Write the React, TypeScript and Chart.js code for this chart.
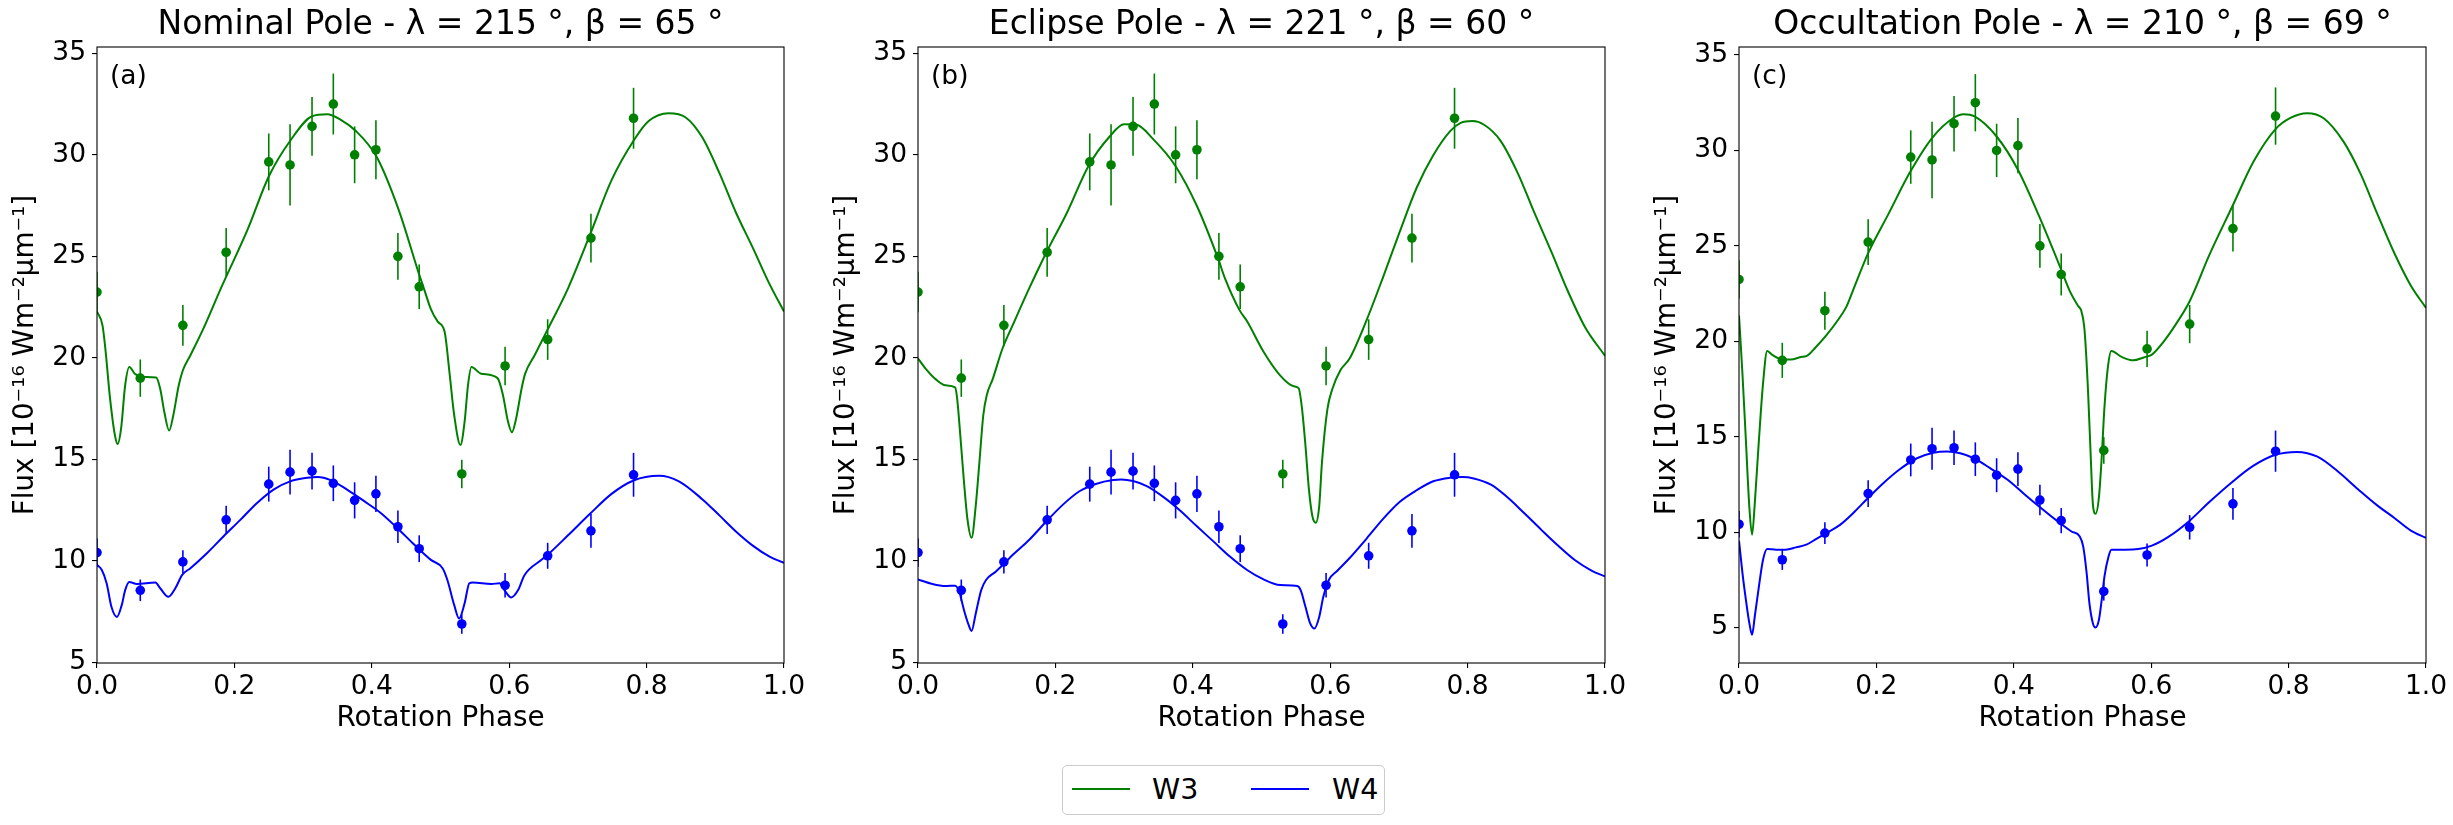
import { useEffect, useRef } from 'react';
import Chart from 'chart.js/auto';

type Pt = [number, number];

// observed photometry (same in every panel)
const obsPhase = [0, 0.063, 0.125, 0.188, 0.25, 0.281, 0.313, 0.344, 0.375, 0.406, 0.438, 0.469, 0.531, 0.594, 0.656, 0.719, 0.781];
const w3Flux = [23.24, 19.0, 21.6, 25.2, 29.65, 29.5, 31.4, 32.5, 30.0, 30.25, 25.0, 23.5, 14.28, 19.6, 20.9, 25.9, 31.8];
const w3Err = [1.0, 0.92, 1.0, 1.2, 1.4, 2.0, 1.45, 1.5, 1.4, 1.45, 1.15, 1.1, 0.7, 0.95, 1.0, 1.2, 1.5];
const w4Flux = [10.41, 8.55, 9.95, 12.02, 13.78, 14.37, 14.42, 13.82, 12.98, 13.3, 11.68, 10.6, 6.89, 8.8, 10.25, 11.48, 14.24];
const w4Err = [0.7, 0.53, 0.57, 0.7, 0.86, 1.1, 0.9, 0.88, 0.89, 0.89, 0.8, 0.66, 0.48, 0.6, 0.64, 0.83, 1.08];

// model light curves [phase, flux]
const nominalW3: Pt[] = [
  [0, 22.28], [0.008, 21.6], [0.012, 20.5], [0.019, 18.0], [0.026, 16.2], [0.03, 15.76], [0.035, 16.5],
  [0.041, 18.65], [0.047, 19.55], [0.055, 19.22], [0.068, 19.06], [0.086, 19.03], [0.092, 18.48],
  [0.098, 17.33], [0.105, 16.42], [0.111, 17.16], [0.119, 18.65], [0.125, 19.39], [0.136, 20.13],
  [0.155, 21.45], [0.18, 23.4], [0.219, 26.3], [0.25, 28.93], [0.282, 30.73], [0.313, 31.9], [0.335, 32.0],
  [0.356, 31.7], [0.376, 31.2], [0.407, 29.9], [0.439, 27.3], [0.469, 24.1], [0.476, 23.4], [0.486, 22.4],
  [0.496, 21.78], [0.506, 21.29], [0.513, 19.3], [0.52, 17.16], [0.529, 15.71], [0.535, 16.83], [0.54, 18.65],
  [0.545, 19.55], [0.559, 19.22], [0.583, 19.0], [0.591, 18.15], [0.598, 16.9], [0.604, 16.34], [0.61, 17.0],
  [0.618, 18.48], [0.623, 19.2], [0.637, 20.13], [0.656, 21.4], [0.686, 23.45], [0.718, 26.1], [0.749, 28.75],
  [0.781, 30.69], [0.803, 31.66], [0.832, 32.05], [0.857, 31.84], [0.881, 30.86], [0.906, 29.1], [0.93, 27.16],
  [0.955, 25.39], [0.979, 23.63], [1.0, 22.28],
];
const nominalW4: Pt[] = [
  [0, 9.8], [0.007, 9.55], [0.014, 8.9], [0.021, 7.74], [0.029, 7.24], [0.036, 7.82], [0.041, 8.56],
  [0.047, 8.96], [0.058, 8.86], [0.085, 8.93], [0.092, 8.65], [0.104, 8.23], [0.114, 8.65], [0.124, 9.31],
  [0.136, 9.64], [0.16, 10.38], [0.184, 11.2], [0.209, 12.03], [0.233, 12.85], [0.257, 13.51], [0.282, 13.93],
  [0.306, 14.09], [0.321, 14.13], [0.34, 13.98], [0.364, 13.51], [0.389, 12.94], [0.413, 12.36], [0.437, 11.62],
  [0.462, 10.79], [0.486, 10.05], [0.503, 9.64], [0.51, 9.06], [0.52, 7.82], [0.527, 7.16], [0.535, 7.9],
  [0.542, 8.9], [0.547, 8.94], [0.574, 8.86], [0.586, 8.9], [0.593, 8.56], [0.603, 8.2], [0.613, 8.56],
  [0.622, 9.28], [0.647, 10.05], [0.656, 10.3], [0.686, 11.27], [0.718, 12.33], [0.749, 13.3], [0.781, 13.96],
  [0.818, 14.19], [0.847, 13.92], [0.881, 13.04], [0.906, 12.24], [0.93, 11.45], [0.955, 10.74], [0.979, 10.21],
  [1.0, 9.9],
];
const eclipseW3: Pt[] = [
  [0, 19.97], [0.011, 19.47], [0.026, 18.94], [0.04, 18.65], [0.054, 18.55], [0.057, 17.99], [0.062, 16.0],
  [0.067, 13.86], [0.072, 12.05], [0.078, 11.14], [0.084, 12.7], [0.089, 14.69], [0.095, 17.16], [0.1, 18.15],
  [0.109, 18.98], [0.123, 20.46], [0.138, 21.62], [0.162, 23.43], [0.187, 25.2], [0.217, 27.16], [0.248, 29.44],
  [0.279, 30.9], [0.3, 31.5], [0.317, 31.49], [0.343, 30.75], [0.375, 29.44], [0.406, 27.48], [0.437, 24.87],
  [0.447, 23.9], [0.468, 22.35], [0.479, 21.8], [0.503, 20.3], [0.527, 19.14], [0.547, 18.6], [0.554, 18.51],
  [0.559, 17.49], [0.564, 15.67], [0.569, 13.53], [0.574, 12.21], [0.579, 11.88], [0.584, 12.7], [0.588, 14.85],
  [0.596, 17.49], [0.603, 18.45], [0.615, 19.4], [0.628, 19.95], [0.653, 21.86], [0.677, 23.98], [0.701, 26.19],
  [0.726, 28.39], [0.75, 29.98], [0.775, 31.18], [0.79, 31.57], [0.807, 31.66], [0.824, 31.48], [0.848, 30.69],
  [0.873, 29.1], [0.897, 27.16], [0.922, 25.22], [0.946, 23.28], [0.971, 21.51], [1.0, 20.1],
];
const eclipseW4: Pt[] = [
  [0, 9.09], [0.021, 8.86], [0.04, 8.76], [0.054, 8.78], [0.06, 8.48], [0.067, 7.57], [0.073, 6.91],
  [0.078, 6.55], [0.084, 7.4], [0.092, 8.56], [0.099, 9.06], [0.113, 9.47], [0.126, 9.88], [0.138, 10.3],
  [0.162, 11.04], [0.187, 11.95], [0.211, 12.77], [0.235, 13.43], [0.26, 13.8], [0.284, 13.98], [0.296, 14.01],
  [0.313, 13.93], [0.333, 13.68], [0.357, 13.15], [0.381, 12.49], [0.406, 11.7], [0.43, 10.96], [0.454, 10.21],
  [0.479, 9.55], [0.503, 9.09], [0.527, 8.81], [0.552, 8.76], [0.557, 8.56], [0.564, 7.74], [0.571, 6.91],
  [0.577, 6.67], [0.584, 7.24], [0.59, 8.23], [0.598, 9.06], [0.61, 9.5], [0.628, 10.13], [0.653, 11.1],
  [0.677, 12.07], [0.701, 12.9], [0.726, 13.48], [0.75, 13.92], [0.775, 14.1], [0.792, 14.13], [0.809, 14.06],
  [0.834, 13.75], [0.858, 13.13], [0.883, 12.33], [0.907, 11.54], [0.932, 10.74], [0.956, 10.04], [0.981, 9.51],
  [1.0, 9.24],
];
const occultationW3: Pt[] = [
  [0, 21.35], [0.005, 18.31], [0.01, 14.83], [0.015, 11.34], [0.019, 9.86], [0.023, 11.52], [0.029, 14.83],
  [0.035, 17.79], [0.041, 19.49], [0.049, 19.27], [0.064, 19.04], [0.076, 19.04], [0.09, 19.18], [0.098, 19.22],
  [0.112, 19.7], [0.127, 20.31], [0.142, 21.01], [0.156, 21.79], [0.166, 22.67], [0.188, 24.62], [0.218, 26.7],
  [0.248, 28.8], [0.281, 30.65], [0.312, 31.7], [0.327, 31.9], [0.343, 31.78], [0.375, 30.73], [0.406, 28.99],
  [0.437, 26.54], [0.469, 23.75], [0.481, 22.67], [0.494, 21.83], [0.498, 21.62], [0.503, 20.57], [0.508, 17.44],
  [0.512, 13.95], [0.515, 11.52], [0.519, 10.96], [0.524, 11.86], [0.528, 13.95], [0.532, 16.57], [0.537, 18.66],
  [0.542, 19.49], [0.557, 19.18], [0.574, 19.0], [0.589, 19.15], [0.601, 19.3], [0.617, 19.93], [0.636, 20.9],
  [0.656, 22.1], [0.685, 24.55], [0.718, 27.06], [0.749, 29.42], [0.781, 31.12], [0.802, 31.69], [0.827, 31.95],
  [0.851, 31.69], [0.88, 30.46], [0.905, 28.76], [0.929, 26.69], [0.954, 24.61], [0.978, 22.91], [1.0, 21.75],
];
const occultationW4: Pt[] = [
  [0, 9.55], [0.005, 7.86], [0.01, 6.46], [0.015, 5.24], [0.019, 4.62], [0.023, 5.59], [0.029, 7.16],
  [0.035, 8.55], [0.041, 9.11], [0.054, 9.08], [0.068, 9.08], [0.083, 9.2], [0.098, 9.34], [0.112, 9.63],
  [0.127, 9.95], [0.147, 10.38], [0.166, 10.99], [0.186, 11.72], [0.21, 12.56], [0.234, 13.29], [0.259, 13.87],
  [0.283, 14.16], [0.303, 14.22], [0.322, 14.13], [0.342, 13.87], [0.366, 13.34], [0.391, 12.74], [0.415, 12.0],
  [0.44, 11.25], [0.464, 10.56], [0.484, 10.03], [0.496, 9.77], [0.501, 9.25], [0.506, 7.86], [0.51, 6.29],
  [0.515, 5.24], [0.519, 5.0], [0.524, 5.42], [0.528, 6.46], [0.532, 7.68], [0.538, 8.73], [0.542, 9.08],
  [0.562, 9.08], [0.581, 9.11], [0.601, 9.29], [0.625, 9.75], [0.656, 10.6], [0.685, 11.59], [0.718, 12.63],
  [0.749, 13.48], [0.781, 14.05], [0.812, 14.2], [0.842, 13.95], [0.871, 13.2], [0.901, 12.25], [0.929, 11.4],
  [0.954, 10.74], [0.978, 10.08], [1.0, 9.7],
];

const xTicks = [0, 0.2, 0.4, 0.6, 0.8, 1.0];
const yTicks = [5, 10, 15, 20, 25, 30, 35];

const FONT = "'DejaVu Sans', sans-serif";
const W3_COLOR = '#008000';
const W4_COLOR = '#0000ff';

const panels = [
  { title: 'Nominal Pole - λ = 215 °, β = 65 °', tag: '(a)', w3: nominalW3, w4: nominalW4, yMin: 4.97, yMax: 35.31, left: 0 },
  { title: 'Eclipse Pole - λ = 221 °, β = 60 °', tag: '(b)', w3: eclipseW3, w4: eclipseW4, yMin: 4.97, yMax: 35.31, left: 821 },
  { title: 'Occultation Pole - λ = 210 °, β = 69 °', tag: '(c)', w3: occultationW3, w4: occultationW4, yMin: 3.14, yMax: 35.42, left: 1642 },
];

const CANVAS_W = 810;
const CANVAS_H = 750;

// vertical error bars, drawn with the chart's own scales
const errorBars = {
  id: 'errorBars',
  beforeDatasetsDraw(chart: any) {
    const { ctx, chartArea, scales } = chart;
    ctx.save();
    ctx.beginPath();
    ctx.rect(chartArea.left, chartArea.top, chartArea.right - chartArea.left, chartArea.bottom - chartArea.top);
    ctx.clip();
    chart.data.datasets.forEach((ds: any) => {
      if (!ds.errors) return;
      ctx.strokeStyle = ds.backgroundColor;
      ctx.lineWidth = 1.6;
      ds.data.forEach((p: any, i: number) => {
        const px = scales.x.getPixelForValue(p.x);
        ctx.beginPath();
        ctx.moveTo(px, scales.y.getPixelForValue(p.y - ds.errors[i]));
        ctx.lineTo(px, scales.y.getPixelForValue(p.y + ds.errors[i]));
        ctx.stroke();
      });
    });
    ctx.restore();
  },
};

// full box frame + panel letter
const frame = {
  id: 'frame',
  afterDraw(chart: any, _args: any, opts: any) {
    const { ctx, chartArea } = chart;
    ctx.save();
    ctx.strokeStyle = '#000';
    ctx.lineWidth = 1.1;
    ctx.strokeRect(chartArea.left, chartArea.top, chartArea.right - chartArea.left, chartArea.bottom - chartArea.top);
    ctx.fillStyle = '#000';
    ctx.font = `26.5px ${FONT}`;
    ctx.textBaseline = 'middle';
    ctx.textAlign = 'left';
    ctx.fillText(opts.tag, chartArea.left + 13, chartArea.top + 30);
    ctx.restore();
  },
};

function Panel({ cfg }: { cfg: typeof panels[number] }) {
  const canvasRef = useRef<HTMLCanvasElement | null>(null);

  useEffect(() => {
    const canvas = canvasRef.current;
    if (!canvas) return;

    const tickFont = { family: FONT, size: 26.5 };
    const labelFont = { family: FONT, size: 27.8 };
    const grid = { drawOnChartArea: false, drawTicks: true, tickLength: 5, color: '#000', lineWidth: 1.1 };

    const chart = new Chart(canvas, {
      type: 'scatter',
      data: {
        datasets: [
          {
            label: 'W3 obs',
            data: obsPhase.map((x, i) => ({ x, y: w3Flux[i] })),
            errors: w3Err,
            backgroundColor: W3_COLOR,
            borderWidth: 0,
            pointRadius: 4.8,
            clip: 0,
          } as any,
          {
            label: 'W4 obs',
            data: obsPhase.map((x, i) => ({ x, y: w4Flux[i] })),
            errors: w4Err,
            backgroundColor: W4_COLOR,
            borderWidth: 0,
            pointRadius: 4.8,
            clip: 0,
          } as any,
          {
            label: 'W3',
            data: cfg.w3.map(([x, y]) => ({ x, y })),
            showLine: true,
            borderColor: W3_COLOR,
            borderWidth: 2,
            pointRadius: 0,
            cubicInterpolationMode: 'monotone',
            clip: 0,
          },
          {
            label: 'W4',
            data: cfg.w4.map(([x, y]) => ({ x, y })),
            showLine: true,
            borderColor: W4_COLOR,
            borderWidth: 2,
            pointRadius: 0,
            cubicInterpolationMode: 'monotone',
            clip: 0,
          },
        ],
      },
      options: {
        responsive: false,
        animation: false,
        events: [],
        layout: { padding: { top: 0, left: 0, right: CANVAS_W - 97 - 687, bottom: 0 } },
        scales: {
          x: {
            type: 'linear',
            min: 0,
            max: 1,
            afterBuildTicks: (s: any) => { s.ticks = xTicks.map((value) => ({ value })); },
            afterFit: (s: any) => { s.height = CANVAS_H - 663; },
            ticks: { font: tickFont, color: '#000', padding: 3, maxRotation: 0, autoSkip: false, callback: (v: any) => Number(v).toFixed(1) },
            grid,
            border: { display: false },
            title: { display: true, text: 'Rotation Phase', font: labelFont, color: '#000', padding: { top: 0, bottom: 15 } },
          },
          y: {
            type: 'linear',
            min: cfg.yMin,
            max: cfg.yMax,
            afterBuildTicks: (s: any) => { s.ticks = yTicks.map((value) => ({ value })); },
            afterFit: (s: any) => { s.width = 97; },
            ticks: { font: tickFont, color: '#000', padding: 6 },
            grid,
            border: { display: false },
            title: { display: true, text: 'Flux [10⁻¹⁶ Wm⁻²μm⁻¹]', font: labelFont, color: '#000', padding: { top: 9, bottom: 0 } },
          },
        },
        plugins: {
          legend: { display: false },
          tooltip: { enabled: false },
          title: {
            display: true,
            fullSize: false,
            text: cfg.title,
            color: '#000',
            font: { family: FONT, size: 33, weight: 'normal' },
            padding: { top: 6, bottom: 1.4 },
          },
          frame: { tag: cfg.tag },
        } as any,
      },
      plugins: [errorBars, frame],
    });

    return () => chart.destroy();
  }, [cfg]);

  return (
    <canvas
      ref={canvasRef}
      width={CANVAS_W}
      height={CANVAS_H}
      style={{ position: 'absolute', left: cfg.left, top: 0, width: CANVAS_W, height: CANVAS_H }}
    />
  );
}

export default function App() {
  return (
    <div style={{ position: 'absolute', left: 0, top: 0, width: 2453, height: 825, background: '#fff', overflow: 'hidden', fontFamily: FONT }}>
      {panels.map((p) => <Panel key={p.tag} cfg={p} />)}
      <div style={{ position: 'absolute', left: 1062, top: 765, width: 321, height: 48, border: '1px solid #cccccc', borderRadius: 5, background: '#fff' }}>
        <div style={{ position: 'absolute', left: 9, top: 22, width: 58, height: 0, borderTop: `2.5px solid ${W3_COLOR}` }} />
        <div style={{ position: 'absolute', left: 89, top: 0, height: 48, lineHeight: '48px', fontSize: 28.5, color: '#000' }}>W3</div>
        <div style={{ position: 'absolute', left: 188, top: 22, width: 58, height: 0, borderTop: `2.5px solid ${W4_COLOR}` }} />
        <div style={{ position: 'absolute', left: 269, top: 0, height: 48, lineHeight: '48px', fontSize: 28.5, color: '#000' }}>W4</div>
      </div>
    </div>
  );
}
